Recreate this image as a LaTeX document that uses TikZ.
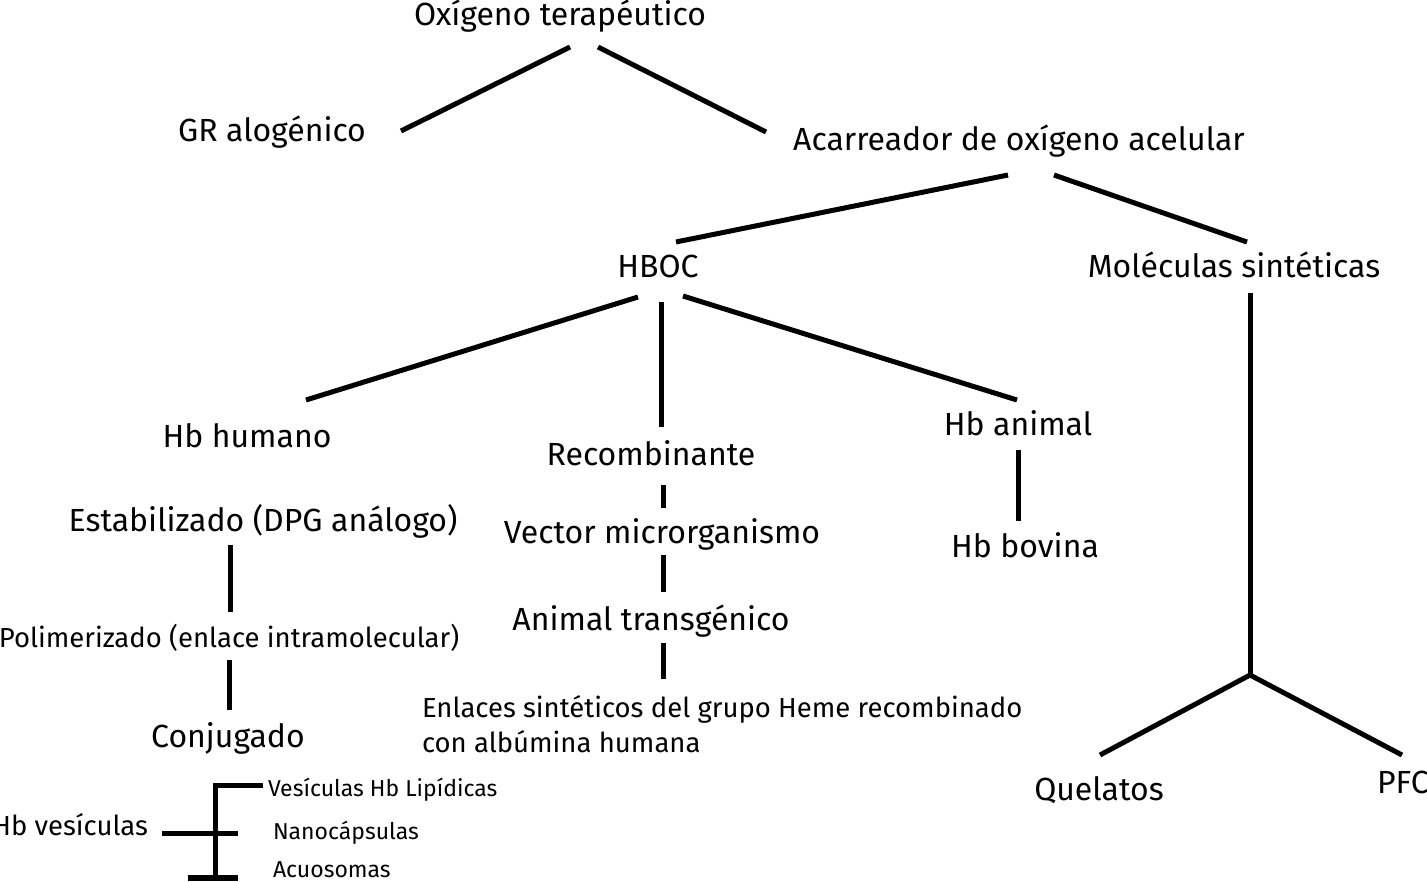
\documentclass[tikz,border=0pt]{standalone}
\usepackage{fontspec}
\setmainfont{Fira Sans}
\tikzset{
  lbl/.style={inner sep=0pt, outer sep=0pt, text=black, font=\fontsize{32}{36}\selectfont},
  lblm/.style={lbl, font=\fontsize{27.5}{32}\selectfont},
  lbls/.style={lbl, font=\fontsize{23}{27}\selectfont},
  conn/.style={line width=5pt, black}
}
\begin{document}
\begin{tikzpicture}[x=1pt,y=-1pt]
\useasboundingbox (0,0) rectangle (1427,881);
% nodes
\node[lbl, anchor=base] (oxi) at (560,25) {Oxígeno terapéutico};
\node[lbl, anchor=base] (gr) at (272,141) {GR alogénico};
\node[lbl, anchor=base] (acar) at (1019,150) {Acarreador de oxígeno acelular};
\node[lbl, anchor=base] (hboc) at (658,277) {HBOC};
\node[lbl, anchor=base] (mol) at (1234,277) {Moléculas sintéticas};
\node[lbl, anchor=base] (hbh) at (247,447) {Hb humano};
\node[lbl, anchor=base] (rec) at (651,465) {Recombinante};
\node[lbl, anchor=base] (hba) at (1018,435) {Hb animal};
\node[lbl, anchor=base] (hbb) at (1025,557) {Hb bovina};
\node[lbl, anchor=base] (est) at (263,531) {Estabilizado (DPG análogo)};
\node[lbl, anchor=base] (vec) at (662,543) {Vector microrganismo};
\node[lblm, anchor=base] (pol) at (229,647) {Polimerizado (enlace intramolecular)};
\node[lbl, anchor=base] (ani) at (651,630) {Animal transgénico};
\node[lbl, anchor=base] (con) at (228,747) {Conjugado};
\node[lblm, anchor=base west] (enl1) at (422,717) {Enlaces sintéticos del grupo Heme recombinado};
\node[lblm, anchor=base west] (enl2) at (422,752) {con albúmina humana};
\node[lbl, anchor=base] (que) at (1099,800) {Quelatos};
\node[lbl, anchor=base west] (pfc) at (1377,793) {PFC};
\node[lblm, anchor=base east] (hbv) at (148,835) {Hb vesículas};
\node[lbls, anchor=base west] (vl) at (268,796) {Vesículas Hb Lipídicas};
\node[lbls, anchor=base west] (nano) at (273,839) {Nanocápsulas};
\node[lbls, anchor=base west] (acuo) at (273,877) {Acuosomas};
% connector end points
\coordinate (oxiL) at (570,47);  \coordinate (grR) at (401,131);
\coordinate (oxiR) at (598,47);  \coordinate (acarL) at (766,132);
\coordinate (acarA) at (1008,175); \coordinate (hbocT) at (676,242);
\coordinate (acarB) at (1054,175); \coordinate (molT) at (1247,242);
\coordinate (hbocA) at (638,297); \coordinate (hbhT) at (306,400);
\coordinate (hbocB) at (661,302); \coordinate (recT) at (661,427);
\coordinate (hbocC) at (683,296); \coordinate (hbaT) at (1017,400);
\coordinate (molB) at (1250,293); \coordinate (fork) at (1250,675);
\coordinate (queT) at (1100,755); \coordinate (pfcT) at (1402,755);
\coordinate (hbaB) at (1018,450); \coordinate (hbbT) at (1018,521);
\coordinate (recB) at (663,485); \coordinate (vecT) at (663,508);
\coordinate (vecB) at (663,555); \coordinate (aniT) at (663,592);
\coordinate (aniB) at (663,643); \coordinate (enlT) at (663,679);
\coordinate (estB) at (230,545); \coordinate (polT) at (230,612);
\coordinate (polB) at (229,660); \coordinate (conT) at (229,710);
\coordinate (brTop) at (215,785); \coordinate (brBot) at (215,881);
\coordinate (vlL) at (263,785);
\coordinate (hbvR) at (162,833); \coordinate (brMid) at (238,833);
% connectors
\draw[conn] (oxiL) -- (grR);
\draw[conn] (oxiR) -- (acarL);
\draw[conn] (acarA) -- (hbocT);
\draw[conn] (acarB) -- (molT);
\draw[conn] (hbocA) -- (hbhT);
\draw[conn] (hbocB) -- (recT);
\draw[conn] (hbocC) -- (hbaT);
\draw[conn] (molB) -- (fork);
\draw[conn] (fork) -- (queT);
\draw[conn] (fork) -- (pfcT);
\draw[conn] (hbaB) -- (hbbT);
\draw[conn] (recB) -- (vecT);
\draw[conn] (vecB) -- (aniT);
\draw[conn] (aniB) -- (enlT);
\draw[conn] (estB) -- (polT);
\draw[conn] (polB) -- (conT);
\draw[conn] (brBot) -- (brTop) -- (vlL);
\draw[conn] (hbvR) -- (brMid);
\fill[black] (188,875) rectangle (238,881);
\end{tikzpicture}
\end{document}
